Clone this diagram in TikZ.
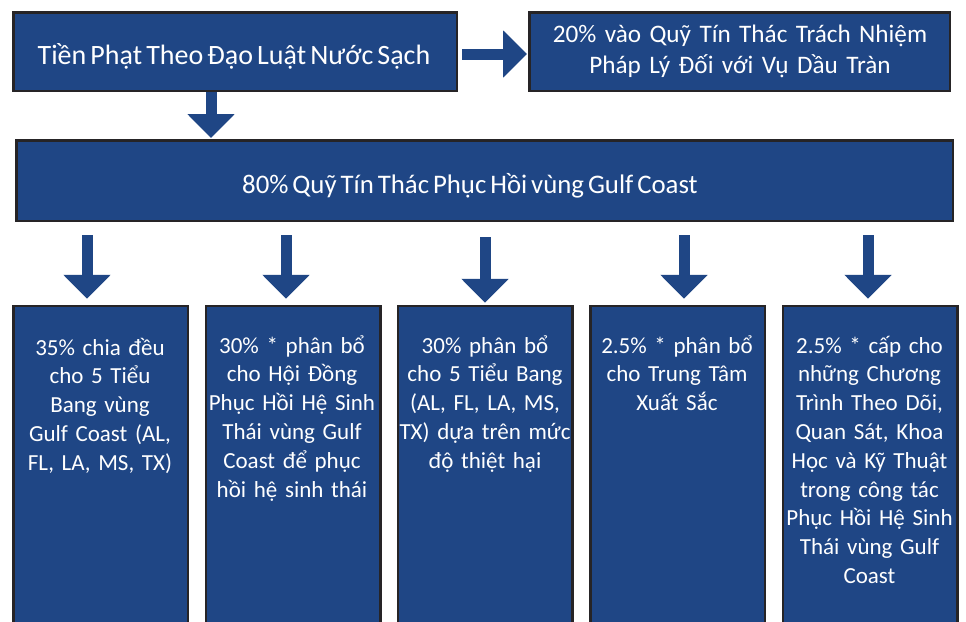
\documentclass[tikz,border=0pt]{standalone}
\usepackage{fontspec}
\setmainfont{Carlito}[WordSpace=0.65]
\usetikzlibrary{arrows.meta}
\definecolor{boxblue}{RGB}{31,70,133}
\definecolor{boxedge}{RGB}{38,36,38}
\begin{document}
\begin{tikzpicture}[x=1pt,y=-1pt,
  box/.style={draw=boxedge, line width=2.5pt, fill=boxblue, inner sep=0pt, outer sep=0pt},
  lbl/.style={text=white, inner sep=0pt, outer sep=0pt, align=center},
  big/.style={lbl, font=\fontsize{28}{31}\selectfont},
  mid/.style={lbl, font=\fontsize{25.2}{31}\selectfont, text width=440pt},
  small/.style={lbl, font=\fontsize{23}{28.8}\selectfont, text width=210pt, anchor=base},
  barrow/.style={draw=boxblue, line width=11pt, -{Triangle[width=46pt,length=24pt]}}
]
\useasboundingbox (0,0) rectangle (966,621);
\fill[white] (0,0) rectangle (966,621);
\begin{scope}
\clip (0,0) rectangle (966,621);
% top row
\node[box, minimum width=443.5pt, minimum height=78.5pt] (A) at (235,51.5) {};
\node[box, minimum width=420.5pt, minimum height=78.5pt] (B) at (739.5,51.5) {};
\node[box, minimum width=936.5pt, minimum height=80.5pt] (C) at (484.5,180.5) {};
% bottom row
\node[box, minimum width=174.5pt, minimum height=340pt] (b1) at (100.5,476) {};
\node[box, minimum width=174.5pt, minimum height=340pt] (b2) at (293,476) {};
\node[box, minimum width=174.5pt, minimum height=340pt] (b3) at (485,476) {};
\node[box, minimum width=174.5pt, minimum height=340pt] (b4) at (677.5,476) {};
\node[box, minimum width=174.5pt, minimum height=340pt] (b5) at (870,476) {};
\end{scope}
% texts
\node[big, anchor=base] (tA) at (234,64) {Tiền Phạt Theo Đạo Luật Nước Sạch};
\node[mid, anchor=base] (tB) at (740,42) {20\% vào Quỹ Tín Thác Trách Nhiệm\\Pháp Lý Đối với Vụ Dầu Tràn};
\node[big, anchor=base, font=\fontsize{26.8}{31}\selectfont] (tC) at (470,193) {80\% Quỹ Tín Thác Phục Hồi vùng Gulf Coast};
\node[small] (t1) at (100,355) {35\% chia đều\\cho 5 Tiểu\\Bang vùng\\Gulf Coast (AL,\\FL, LA, MS, TX)};
\node[small] (t2) at (292,353) {30\% * phân bổ\\cho Hội Đồng\\Phục Hồi Hệ Sinh\\Thái vùng Gulf\\Coast để phục\\hồi hệ sinh thái};
\node[small] (t3) at (485,353) {30\% phân bổ\\cho 5 Tiểu Bang\\(AL, FL, LA, MS,\\TX) dựa trên mức\\độ thiệt hại};
\node[small] (t4) at (677,353) {2.5\% * phân bổ\\cho Trung Tâm\\Xuất Sắc};
\node[small] (t5) at (869.5,353) {2.5\% * cấp cho\\những Chương\\Trình Theo Dõi,\\Quan Sát, Khoa\\Học và Kỹ Thuật\\trong công tác\\Phục Hồi Hệ Sinh\\Thái vùng Gulf\\Coast};
% arrows
\coordinate (ya) at (0,54);
\coordinate (xd) at (211,0);
\coordinate (x1) at (87,0);
\coordinate (x2) at (286,0);
\coordinate (x3) at (485,0);
\coordinate (x4) at (684,0);
\coordinate (x5) at (868,0);
\draw[barrow, shorten <=5.25pt, shorten >=2.25pt] (A.east |- ya) -- (B.west |- ya);
\draw[barrow, shorten <=1.25pt, shorten >=2.25pt] (xd |- A.south) -- (xd |- C.north);
\draw[barrow, shorten <=14.25pt, shorten >=7.25pt] (x1 |- C.south) -- (x1 |- b1.north);
\draw[barrow, shorten <=14.25pt, shorten >=7.25pt] (x2 |- C.south) -- (x2 |- b2.north);
\draw[barrow, shorten <=16.25pt, shorten >=3.25pt] (x3 |- C.south) -- (x3 |- b3.north);
\draw[barrow, shorten <=14.25pt, shorten >=7.25pt] (x4 |- C.south) -- (x4 |- b4.north);
\draw[barrow, shorten <=14.25pt, shorten >=7.25pt] (x5 |- C.south) -- (x5 |- b5.north);
\end{tikzpicture}
\end{document}
